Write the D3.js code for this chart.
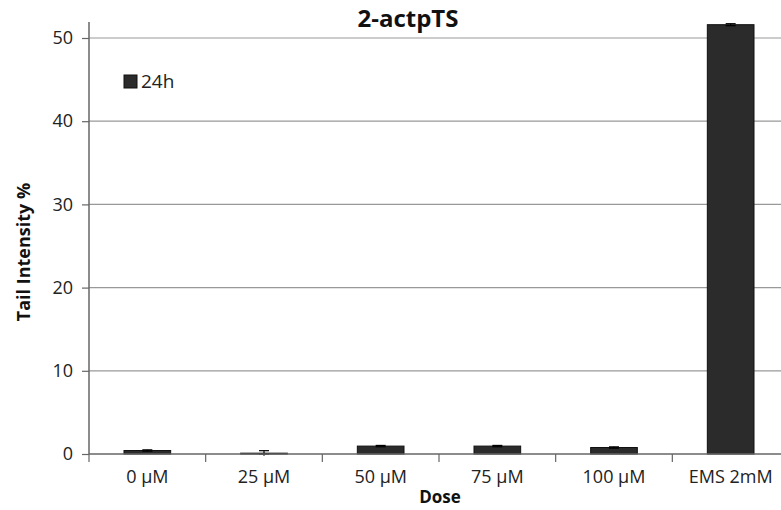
<!DOCTYPE html>
<html><head><meta charset="utf-8">
<script src="https://cdn.jsdelivr.net/npm/d3@7"></script>
<style>body{margin:0;background:#fff}</style>
</head><body>
<svg id="c" width="781" height="510"></svg>
<script>
const categories = ["0 µM","25 µM","50 µM","75 µM","100 µM","EMS 2mM"];
const values = [0.42, 0.1, 0.95, 0.95, 0.78, 51.6];
const errors = [0.08, 0.3, 0.08, 0.08, 0.08, 0.12];
const yTicks = [0,10,20,30,40,50];

const svg = d3.select("#c");
const font = "'Open Sans', sans-serif";
const x = d3.scaleBand().domain(categories).range([89, 789]).paddingInner(0.6).paddingOuter(0.3);
const y = d3.scaleLinear().domain([0,50]).range([454, 38]);

// gridlines
svg.append("g").selectAll("line").data(yTicks.filter(d=>d>0)).join("line")
  .attr("x1",89).attr("x2",781).attr("y1",d=>y(d)).attr("y2",d=>y(d))
  .attr("stroke","#999").attr("stroke-width",1.2);

// bars
svg.append("g").selectAll("rect").data(values).join("rect")
  .attr("x",(d,i)=>x(categories[i])).attr("width",x.bandwidth())
  .attr("y",d=>y(d)).attr("height",d=>y(0)-y(d))
  .attr("fill","#2b2b2b").attr("stroke","#111").attr("stroke-width",1);

// error bars
const eb = svg.append("g").attr("stroke","#000").attr("stroke-width",1.2);
values.forEach((v,i)=>{
  const cx = x(categories[i]) + x.bandwidth()/2;
  eb.append("line").attr("x1",cx).attr("x2",cx).attr("y1",y(v-errors[i])).attr("y2",y(v+errors[i]));
  eb.append("line").attr("x1",cx-5).attr("x2",cx+5).attr("y1",y(v+errors[i])).attr("y2",y(v+errors[i]));
  eb.append("line").attr("x1",cx-5).attr("x2",cx+5).attr("y1",y(Math.max(0,v-errors[i]))).attr("y2",y(Math.max(0,v-errors[i])));
});

// y axis
const ya = svg.append("g").attr("transform","translate(89,0)")
  .call(d3.axisLeft(y).tickValues(yTicks).tickSize(7).tickPadding(9));
ya.select(".domain").attr("d","M0,22V454").attr("stroke","#666").attr("stroke-width",1.5);
ya.selectAll(".tick line").attr("stroke","#666").attr("stroke-width",1.2);
ya.selectAll("text").attr("font-family",font).attr("font-size",18).attr("fill","#222");

// x axis
const xa = svg.append("g").attr("transform","translate(0,454)");
xa.append("line").attr("x1",89).attr("x2",781).attr("stroke","#666").attr("stroke-width",1.5);
const step = x.step();
xa.selectAll("line.t").data(categories).join("line").attr("class","t")
  .attr("x1",(d)=>x(d)+x.bandwidth()/2-step/2).attr("x2",(d)=>x(d)+x.bandwidth()/2-step/2)
  .attr("y1",0).attr("y2",8).attr("stroke","#666").attr("stroke-width",1.2);
xa.selectAll("text").data(categories).join("text")
  .attr("x",d=>x(d)+x.bandwidth()/2).attr("y",29).attr("text-anchor","middle")
  .attr("font-family",font).attr("font-size",18).attr("fill","#222").text(d=>d);

// titles
svg.append("text").attr("x",408).attr("y",27).attr("text-anchor","middle")
  .attr("font-family",font).attr("font-weight","bold").attr("font-size",24).attr("fill","#111").text("2-actpTS");
svg.append("text").attr("x",440).attr("y",503).attr("text-anchor","middle")
  .attr("font-family",font).attr("font-weight","bold").attr("font-size",17).attr("fill","#111").text("Dose");
svg.append("text").attr("transform","translate(30,252) rotate(-90)").attr("text-anchor","middle")
  .attr("font-family",font).attr("font-weight","bold").attr("font-size",18).attr("fill","#111").text("Tail Intensity %");

// legend
svg.append("rect").attr("x",124).attr("y",75).attr("width",13).attr("height",13)
  .attr("fill","#2b2b2b").attr("stroke","#111");
svg.append("text").attr("x",141).attr("y",88).attr("font-family",font).attr("font-size",19).attr("fill","#222").text("24h");
</script>
</body></html>
